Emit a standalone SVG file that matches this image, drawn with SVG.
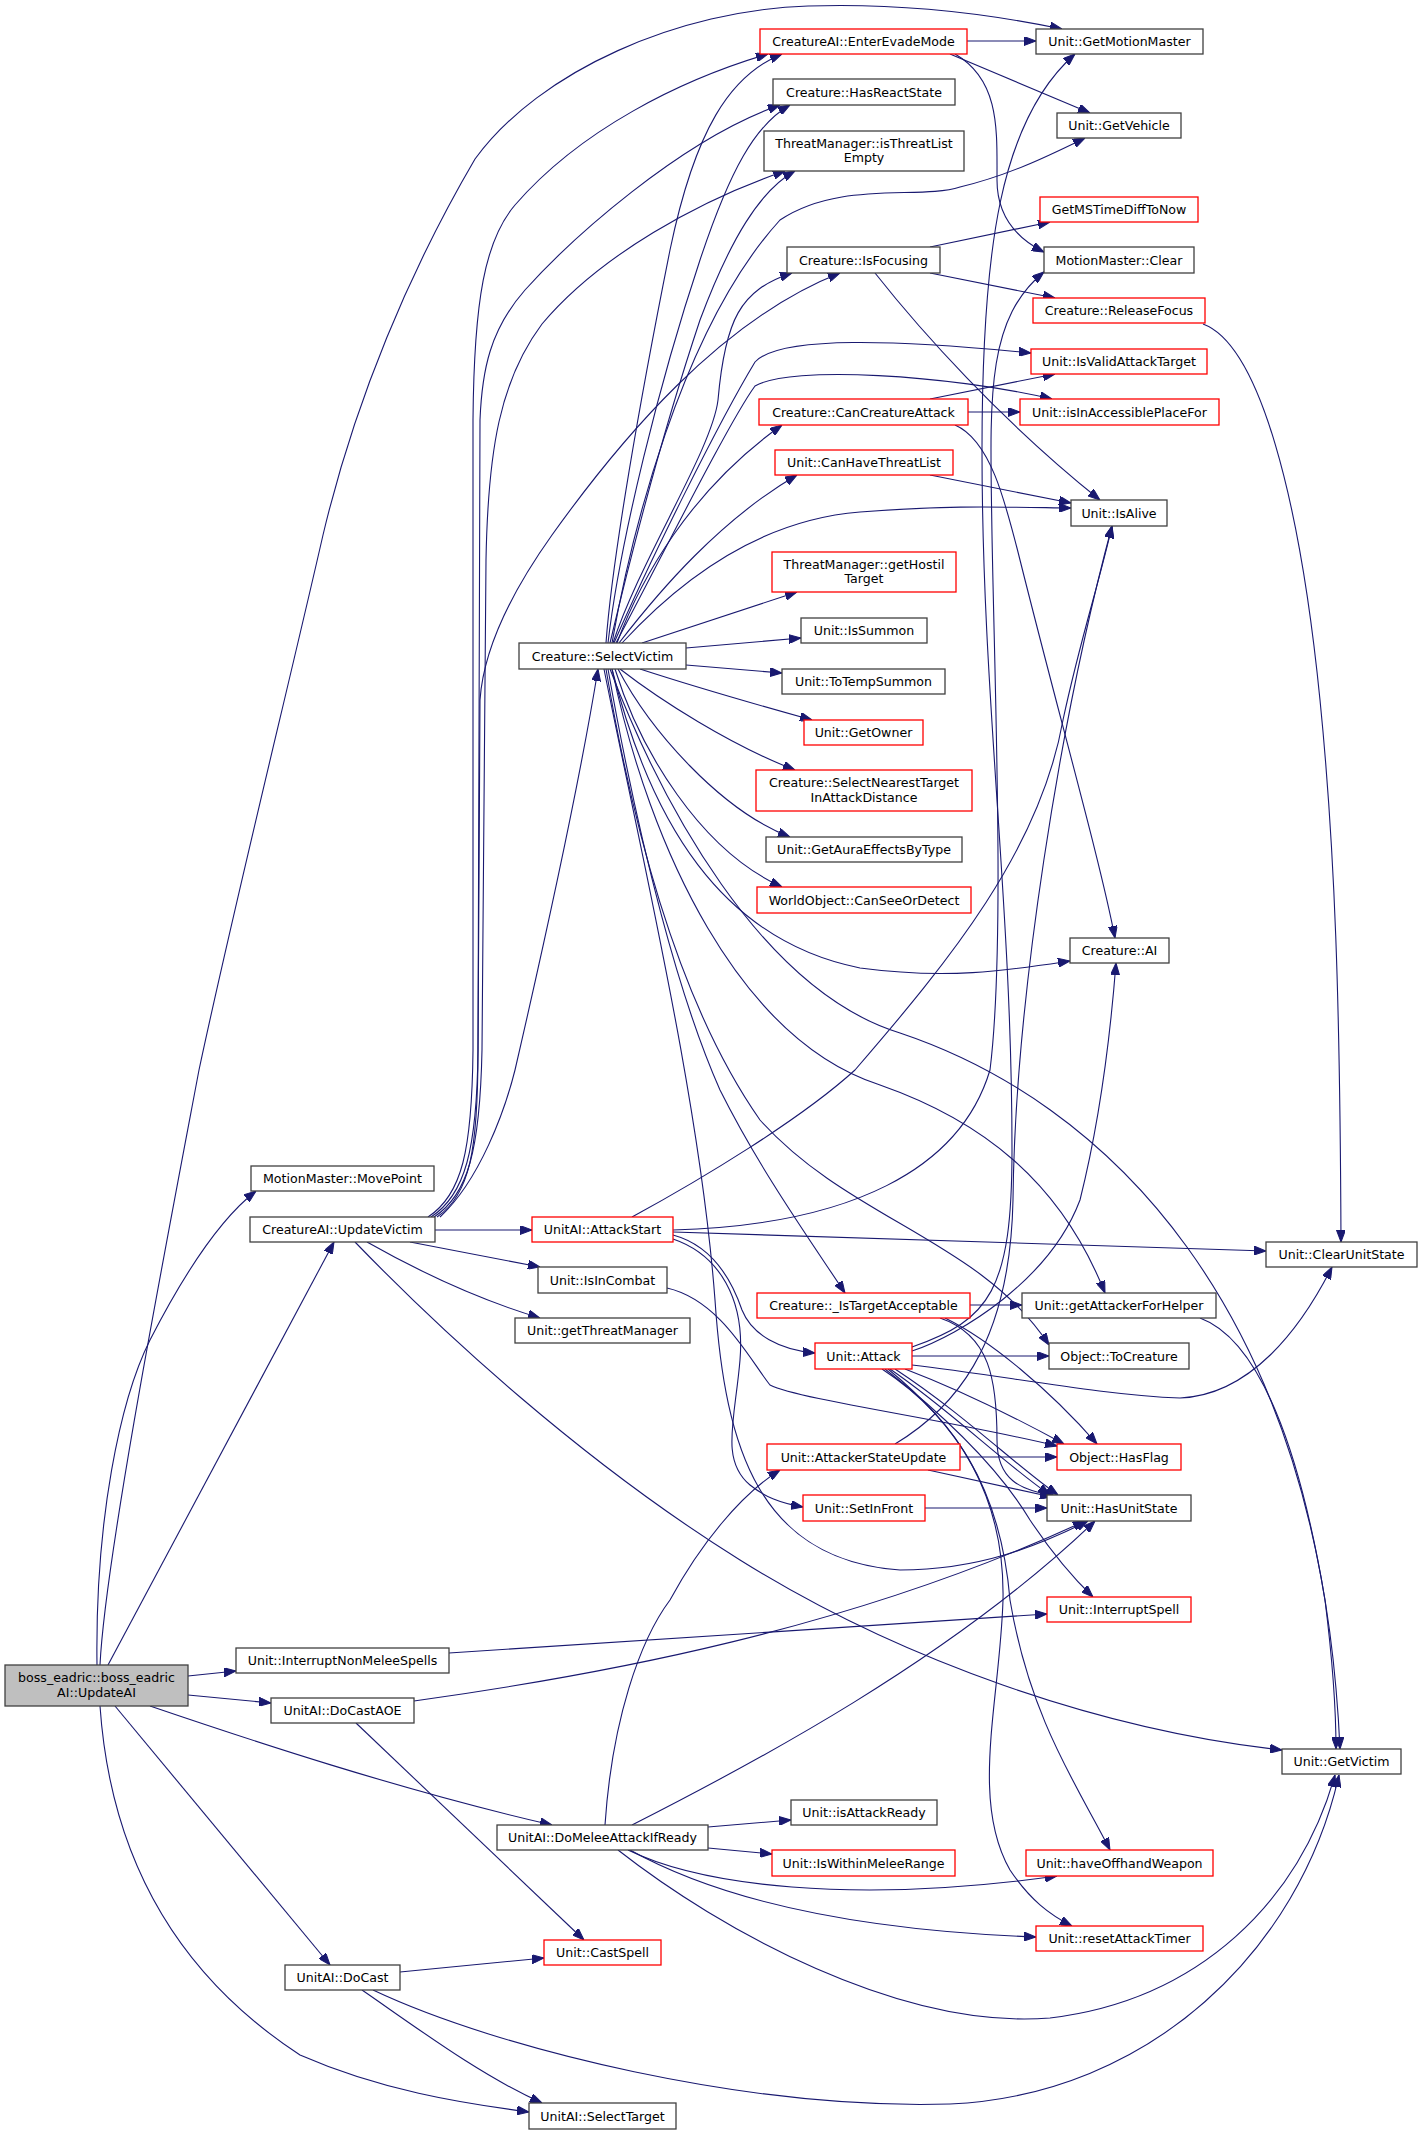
<svg xmlns="http://www.w3.org/2000/svg" width="1423" height="2135" viewBox="0 0 1423 2135">
<defs>
<marker id="a" viewBox="0 0 12 9" refX="12" refY="4.5" markerWidth="12" markerHeight="9" orient="auto" markerUnits="userSpaceOnUse"><path d="M0,0 L12,4.5 L0,9 z" fill="#191970" stroke="#191970" stroke-width="1"/></marker>
</defs>
<style>
.e path{fill:none;stroke:#191970;stroke-width:1.1;marker-end:url(#a)}
.n rect{fill:#fff;stroke:#404040;stroke-width:1.3}
.r rect{stroke:#ff0000}
.root rect{fill:#bfbfbf}
text{font-family:"DejaVu Sans",sans-serif;font-size:12.6px;fill:#000;text-anchor:middle}
</style>
<rect width="1423" height="2135" fill="#fff"/>
<g class="e" id="edges">
<path d="M100,1665 C105,1560 165,1250 199,1070 C233,910 290,680 323,535 C355,400 410,270 475,159 C540,70 680,10 808,6 C900,3 990,14 1062,29"/>
<path d="M97,1665 C95,1520 120,1400 150,1340 C190,1262 225,1215 256,1191"/>
<path d="M108,1665 L334,1242"/>
<path d="M188,1676 L236,1671"/>
<path d="M188,1695 L271,1703"/>
<path d="M150,1706 C250,1740 400,1790 552,1825"/>
<path d="M115,1706 L330,1965"/>
<path d="M100,1706 C110,1850 170,1970 300,2055 C380,2090 460,2103 529,2112"/>
<path d="M435,1230 L532,1230"/>
<path d="M410,1242 L540,1267"/>
<path d="M367,1242 C420,1272 480,1300 540,1318"/>
<path d="M355,1242 C440,1330 580,1460 740,1560 C900,1660 1100,1730 1282,1750"/>
<path d="M440,1217 C480,1180 505,1110 515,1070 C545,940 580,780 598,669"/>
<path d="M428,1217 C462,1195 472,1150 473,1050 L473,420 C474,300 485,240 515,205 C580,130 680,80 768,54"/>
<path d="M431,1217 C465,1195 477,1150 478,1050 L480,420 C482,370 490,330 525,290 C570,240 680,140 780,105"/>
<path d="M434,1217 C468,1195 480,1150 482,1050 L486,560 C488,450 500,380 542,324 C600,255 700,200 785,171"/>
<path d="M437,1217 C470,1195 478,1150 478,1050 L480,700 C484,640 520,580 552,535 C620,440 720,320 840,273"/>
<path d="M606,643 C612,560 640,400 670,250 C695,130 730,75 782,54"/>
<path d="M608,643 C620,540 660,380 700,260 C730,170 755,125 790,105"/>
<path d="M610,643 C625,580 660,440 700,320 C730,240 760,190 795,171"/>
<path d="M612,643 C630,540 680,330 780,220 C840,180 920,200 960,187 C1010,175 1050,155 1085,138"/>
<path d="M613,643 C640,560 712,450 718,400 C725,320 740,290 792,273"/>
<path d="M614,643 C650,560 720,420 755,362 C780,335 900,340 1031,353"/>
<path d="M616,643 C660,560 730,420 755,386 C790,365 950,375 1052,399"/>
<path d="M617,643 C640,580 690,490 782,425"/>
<path d="M619,643 C660,590 720,520 797,475"/>
<path d="M622,643 C680,580 760,520 860,512 C950,505 1000,507 1071,508"/>
<path d="M642,643 L797,592"/>
<path d="M686,648 L801,638"/>
<path d="M686,665 L782,673"/>
<path d="M640,669 C680,682 740,700 812,720"/>
<path d="M620,669 C660,700 730,745 795,770"/>
<path d="M618,669 C650,730 720,810 790,837"/>
<path d="M615,669 C640,750 700,850 782,887"/>
<path d="M612,669 C650,820 720,940 860,968 C950,980 1010,970 1070,961"/>
<path d="M610,669 C660,800 760,990 900,1033 C1100,1100 1320,1300 1340,1749"/>
<path d="M612,669 C650,850 740,1040 880,1085 C980,1120 1060,1180 1105,1293"/>
<path d="M608,669 C640,850 680,1000 720,1090 C760,1170 810,1240 845,1293"/>
<path d="M606,669 C640,870 690,1020 760,1120 C850,1220 980,1240 1049,1345"/>
<path d="M604,669 C640,850 700,1100 715,1300 C725,1450 760,1560 900,1570 C980,1570 1040,1545 1088,1521"/>
<path d="M967,41 L1036,41"/>
<path d="M950,54 L1090,113"/>
<path d="M955,54 C1000,80 997,130 997,180 C997,210 1010,235 1044,252"/>
<path d="M930,247 L1050,222"/>
<path d="M930,273 L1055,298"/>
<path d="M875,273 C920,330 1000,420 1100,500"/>
<path d="M1203,324 C1260,345 1300,500 1320,700 C1335,850 1340,1000 1341,1242"/>
<path d="M930,399 L1055,374"/>
<path d="M968,412 L1020,412"/>
<path d="M955,425 C990,440 1005,500 1020,560 C1060,720 1100,860 1115,938"/>
<path d="M930,475 L1071,503"/>
<path d="M673,1232 C900,1238 1100,1245 1266,1251"/>
<path d="M673,1235 C710,1245 730,1275 742,1310 C752,1335 780,1350 815,1353"/>
<path d="M673,1239 C720,1255 745,1300 740,1360 C735,1420 720,1460 750,1485 C765,1497 780,1503 803,1507"/>
<path d="M673,1230 C850,1225 960,1170 990,1070 C1005,950 995,700 992,535 C990,400 985,320 1044,272"/>
<path d="M632,1217 C700,1180 800,1120 855,1070 C950,960 1040,850 1063,720 C1080,640 1100,580 1112,526"/>
<path d="M667,1288 C720,1300 750,1360 770,1385 C800,1400 950,1420 1057,1446"/>
<path d="M970,1305 L1022,1305"/>
<path d="M945,1318 C990,1340 1050,1390 1097,1444"/>
<path d="M940,1318 C990,1335 997,1380 997,1440 C997,1480 1020,1490 1055,1496"/>
<path d="M912,1347 C990,1320 1012,1290 1012,1150 C1012,900 982,700 982,450 C982,250 1000,120 1075,54"/>
<path d="M912,1351 C960,1335 1050,1280 1080,1200 C1100,1120 1110,1040 1116,963"/>
<path d="M912,1356 L1049,1356"/>
<path d="M912,1365 C1000,1375 1100,1395 1180,1398 C1250,1395 1300,1330 1332,1267"/>
<path d="M905,1369 C960,1390 1020,1420 1064,1444"/>
<path d="M890,1369 C950,1410 1000,1460 1050,1495"/>
<path d="M895,1369 C965,1415 1015,1465 1058,1495"/>
<path d="M885,1369 C950,1420 1000,1470 1030,1520 C1050,1550 1070,1575 1093,1597"/>
<path d="M888,1369 C950,1420 1000,1480 1010,1600 C1030,1720 1080,1790 1110,1850"/>
<path d="M882,1369 C960,1420 1005,1500 1003,1600 C1000,1700 970,1800 1010,1870 C1030,1900 1050,1915 1072,1926"/>
<path d="M960,1457 L1057,1457"/>
<path d="M928,1470 L1052,1497"/>
<path d="M895,1444 C950,1411 1010,1350 1013,1200 C1015,1000 1060,720 1112,526"/>
<path d="M925,1508 L1047,1508"/>
<path d="M1200,1318 C1260,1340 1300,1450 1325,1600 C1335,1680 1336,1720 1336,1749"/>
<path d="M449,1653 L1047,1614"/>
<path d="M414,1701 C600,1675 850,1630 1085,1521"/>
<path d="M356,1723 L584,1940"/>
<path d="M605,1825 C612,1720 640,1640 670,1600 C700,1545 740,1495 780,1470"/>
<path d="M632,1825 C750,1765 950,1660 1095,1521"/>
<path d="M708,1827 L791,1820"/>
<path d="M708,1848 L772,1854"/>
<path d="M628,1850 C700,1885 850,1905 1057,1876"/>
<path d="M630,1850 C720,1900 850,1930 1036,1937"/>
<path d="M618,1850 C720,1930 900,2030 1050,2018 C1200,2000 1300,1900 1335,1775"/>
<path d="M400,1972 L544,1958"/>
<path d="M362,1990 C420,2030 480,2075 542,2103"/>
<path d="M373,1990 C500,2050 750,2110 950,2104 C1150,2095 1300,1950 1339,1775"/>
</g>
<g class="n root" id="boss"><rect x="5" y="1665" width="183" height="41"/><text x="96.5" y="1682">boss_eadric::boss_eadric</text><text x="96.5" y="1696.5">AI::UpdateAI</text></g>
<g class="n" id="movepoint"><rect x="251" y="1166" width="183" height="25"/><text x="342.5" y="1183">MotionMaster::MovePoint</text></g>
<g class="n" id="updatevictim"><rect x="250" y="1217" width="185" height="25"/><text x="342.5" y="1234">CreatureAI::UpdateVictim</text></g>
<g class="n" id="interruptnonmelee"><rect x="236" y="1648" width="213" height="25"/><text x="342.5" y="1665">Unit::InterruptNonMeleeSpells</text></g>
<g class="n" id="docastaoe"><rect x="271" y="1698" width="143" height="25"/><text x="342.5" y="1715">UnitAI::DoCastAOE</text></g>
<g class="n" id="domelee"><rect x="497" y="1825" width="211" height="25"/><text x="602.5" y="1842">UnitAI::DoMeleeAttackIfReady</text></g>
<g class="n" id="docast"><rect x="285" y="1965" width="115" height="25"/><text x="342.5" y="1982">UnitAI::DoCast</text></g>
<g class="n" id="selecttarget"><rect x="529" y="2103" width="147" height="26"/><text x="602.5" y="2120.5">UnitAI::SelectTarget</text></g>
<g class="n" id="getmotionmaster"><rect x="1036" y="29" width="167" height="25"/><text x="1119.5" y="46">Unit::GetMotionMaster</text></g>
<g class="n r" id="enterevademode"><rect x="760" y="29" width="207" height="25"/><text x="863.5" y="46">CreatureAI::EnterEvadeMode</text></g>
<g class="n" id="hasreactstate"><rect x="773" y="79" width="182" height="26"/><text x="864" y="96.5">Creature::HasReactState</text></g>
<g class="n" id="isthreatlistempty"><rect x="764" y="131" width="200" height="40"/><text x="864" y="147.5">ThreatManager::isThreatList</text><text x="864" y="162">Empty</text></g>
<g class="n" id="getvehicle"><rect x="1057" y="113" width="124" height="25"/><text x="1119" y="130">Unit::GetVehicle</text></g>
<g class="n r" id="getmstimediff"><rect x="1040" y="197" width="158" height="25"/><text x="1119" y="214">GetMSTimeDiffToNow</text></g>
<g class="n" id="isfocusing"><rect x="787" y="247" width="153" height="26"/><text x="863.5" y="264.5">Creature::IsFocusing</text></g>
<g class="n" id="mmclear"><rect x="1044" y="247" width="150" height="26"/><text x="1119" y="264.5">MotionMaster::Clear</text></g>
<g class="n r" id="releasefocus"><rect x="1033" y="298" width="172" height="25"/><text x="1119" y="315">Creature::ReleaseFocus</text></g>
<g class="n r" id="isvalidattacktarget"><rect x="1031" y="349" width="176" height="25"/><text x="1119" y="366">Unit::IsValidAttackTarget</text></g>
<g class="n r" id="cancreatureattack"><rect x="759" y="399" width="209" height="26"/><text x="863.5" y="416.5">Creature::CanCreatureAttack</text></g>
<g class="n r" id="isinaccessible"><rect x="1020" y="399" width="199" height="26"/><text x="1119.5" y="416.5">Unit::isInAccessiblePlaceFor</text></g>
<g class="n r" id="canhavethreatlist"><rect x="775" y="450" width="178" height="25"/><text x="864" y="467">Unit::CanHaveThreatList</text></g>
<g class="n" id="isalive"><rect x="1071" y="500" width="96" height="26"/><text x="1119" y="517.5">Unit::IsAlive</text></g>
<g class="n r" id="gethostiltarget"><rect x="772" y="552" width="184" height="40"/><text x="864" y="568.5">ThreatManager::getHostil</text><text x="864" y="583">Target</text></g>
<g class="n" id="selectvictim"><rect x="519" y="643" width="167" height="26"/><text x="602.5" y="660.5">Creature::SelectVictim</text></g>
<g class="n" id="issummon"><rect x="801" y="618" width="126" height="25"/><text x="864" y="635">Unit::IsSummon</text></g>
<g class="n" id="totempsummon"><rect x="782" y="669" width="163" height="25"/><text x="863.5" y="686">Unit::ToTempSummon</text></g>
<g class="n r" id="getowner"><rect x="804" y="720" width="119" height="25"/><text x="863.5" y="737">Unit::GetOwner</text></g>
<g class="n r" id="selectnearest"><rect x="756" y="770" width="216" height="41"/><text x="864" y="787">Creature::SelectNearestTarget</text><text x="864" y="801.5">InAttackDistance</text></g>
<g class="n" id="getauraeffects"><rect x="766" y="837" width="196" height="25"/><text x="864" y="854">Unit::GetAuraEffectsByType</text></g>
<g class="n r" id="canseeordetect"><rect x="757" y="887" width="214" height="26"/><text x="864" y="904.5">WorldObject::CanSeeOrDetect</text></g>
<g class="n" id="creatureai"><rect x="1070" y="938" width="99" height="25"/><text x="1119.5" y="955">Creature::AI</text></g>
<g class="n r" id="attackstart"><rect x="532" y="1217" width="141" height="25"/><text x="602.5" y="1234">UnitAI::AttackStart</text></g>
<g class="n" id="isincombat"><rect x="538" y="1267" width="129" height="26"/><text x="602.5" y="1284.5">Unit::IsInCombat</text></g>
<g class="n" id="getthreatmanager"><rect x="515" y="1318" width="175" height="25"/><text x="602.5" y="1335">Unit::getThreatManager</text></g>
<g class="n r" id="istargetacceptable"><rect x="757" y="1293" width="213" height="25"/><text x="863.5" y="1310">Creature::_IsTargetAcceptable</text></g>
<g class="n r" id="attack"><rect x="815" y="1343" width="97" height="26"/><text x="863.5" y="1360.5">Unit::Attack</text></g>
<g class="n r" id="attackerstateupdate"><rect x="767" y="1444" width="193" height="26"/><text x="863.5" y="1461.5">Unit::AttackerStateUpdate</text></g>
<g class="n r" id="setinfront"><rect x="803" y="1495" width="122" height="26"/><text x="864" y="1512.5">Unit::SetInFront</text></g>
<g class="n" id="clearunitstate"><rect x="1266" y="1242" width="151" height="25"/><text x="1341.5" y="1259">Unit::ClearUnitState</text></g>
<g class="n" id="getattackerforhelper"><rect x="1022" y="1293" width="194" height="25"/><text x="1119" y="1310">Unit::getAttackerForHelper</text></g>
<g class="n" id="tocreature"><rect x="1049" y="1343" width="140" height="26"/><text x="1119" y="1360.5">Object::ToCreature</text></g>
<g class="n r" id="hasflag"><rect x="1057" y="1444" width="124" height="26"/><text x="1119" y="1461.5">Object::HasFlag</text></g>
<g class="n" id="hasunitstate"><rect x="1047" y="1495" width="144" height="26"/><text x="1119" y="1512.5">Unit::HasUnitState</text></g>
<g class="n r" id="interruptspell"><rect x="1047" y="1597" width="144" height="25"/><text x="1119" y="1614">Unit::InterruptSpell</text></g>
<g class="n" id="getvictim"><rect x="1282" y="1749" width="119" height="25"/><text x="1341.5" y="1766">Unit::GetVictim</text></g>
<g class="n" id="isattackready"><rect x="791" y="1800" width="146" height="25"/><text x="864" y="1817">Unit::isAttackReady</text></g>
<g class="n r" id="iswithinmeleerange"><rect x="772" y="1850" width="183" height="26"/><text x="863.5" y="1867.5">Unit::IsWithinMeleeRange</text></g>
<g class="n r" id="haveoffhandweapon"><rect x="1026" y="1850" width="187" height="26"/><text x="1119.5" y="1867.5">Unit::haveOffhandWeapon</text></g>
<g class="n r" id="resetattacktimer"><rect x="1036" y="1926" width="167" height="25"/><text x="1119.5" y="1943">Unit::resetAttackTimer</text></g>
<g class="n r" id="castspell"><rect x="544" y="1940" width="117" height="25"/><text x="602.5" y="1957">Unit::CastSpell</text></g>
</svg>
